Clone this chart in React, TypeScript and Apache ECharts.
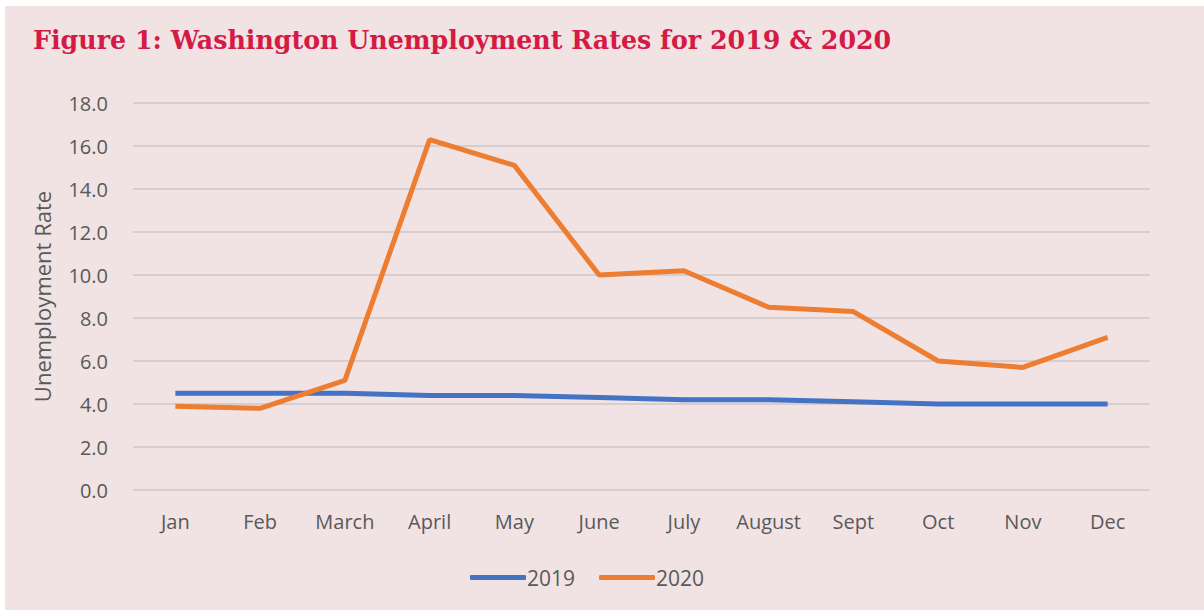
import React, { useEffect, useRef } from "react";
import * as echarts from "echarts";

const months = ["Jan", "Feb", "March", "April", "May", "June", "July", "August", "Sept", "Oct", "Nov", "Dec"];
const rates2019 = [4.5, 4.5, 4.5, 4.4, 4.4, 4.3, 4.2, 4.2, 4.1, 4.0, 4.0, 4.0];
const rates2020 = [3.9, 3.8, 5.1, 16.3, 15.1, 10.0, 10.2, 8.5, 8.3, 6.0, 5.7, 7.1];

const titleText = "Figure 1: Washington Unemployment Rates for 2019 & 2020";
const axisFont = "'Open Sans', 'Liberation Sans', sans-serif";

export default function App() {
  const ref = useRef<HTMLDivElement>(null);
  useEffect(() => {
    const chart = echarts.init(ref.current!, null, { renderer: "svg" });
    chart.setOption({
      animation: false,
      backgroundColor: "#ffffff",
      graphic: [
        {
          type: "rect",
          left: 5,
          top: 6,
          shape: { width: 1199, height: 604 },
          style: { fill: "#f1e3e4" },
          z: -10,
          silent: true,
        },
        {
          type: "text",
          left: 33,
          top: 27,
          style: {
            text: titleText,
            fill: "#d41a45",
            font: "bold 25.3px 'DejaVu Serif', serif",
          },
        },
      ],
      legend: {
        bottom: 17,
        left: 465,
        itemWidth: 56,
        itemHeight: 5,
        itemGap: 24,
        icon: "roundRect",
        textStyle: { color: "#595959", fontSize: 21, fontFamily: axisFont, padding: [0, 0, 0, -4] },
        data: ["2019", "2020"],
      },
      grid: { left: 133, right: 54, top: 103, bottom: 120 },
      xAxis: {
        type: "category",
        data: months,
        boundaryGap: true,
        axisLine: { show: false },
        axisTick: { show: false },
        axisLabel: { color: "#595959", fontSize: 20, fontFamily: axisFont, margin: 21 },
      },
      yAxis: {
        type: "value",
        min: 0,
        max: 18,
        interval: 2,
        name: "Unemployment Rate",
        nameLocation: "middle",
        nameGap: 80,
        nameTextStyle: { color: "#595959", fontSize: 22, fontFamily: axisFont },
        axisLine: { show: false },
        axisTick: { show: false },
        axisLabel: {
          color: "#595959",
          fontSize: 20,
          fontFamily: axisFont,
          margin: 25,
          formatter: (v: number) => v.toFixed(1),
        },
        splitLine: { lineStyle: { color: "#cfc6c7", width: 1.5 } },
      },
      series: [
        {
          name: "2019",
          type: "line",
          data: rates2019,
          symbol: "none",
          lineStyle: { color: "#4472c4", width: 5 },
          itemStyle: { color: "#4472c4" },
        },
        {
          name: "2020",
          type: "line",
          data: rates2020,
          symbol: "none",
          lineStyle: { color: "#ed7d31", width: 5 },
          itemStyle: { color: "#ed7d31" },
        },
      ],
    });
    return () => chart.dispose();
  }, []);
  return (
    <div style={{ position: "absolute", left: 0, top: 0, width: 1204, height: 610 }}>
      <div ref={ref} style={{ width: 1204, height: 610 }} />
    </div>
  );
}
